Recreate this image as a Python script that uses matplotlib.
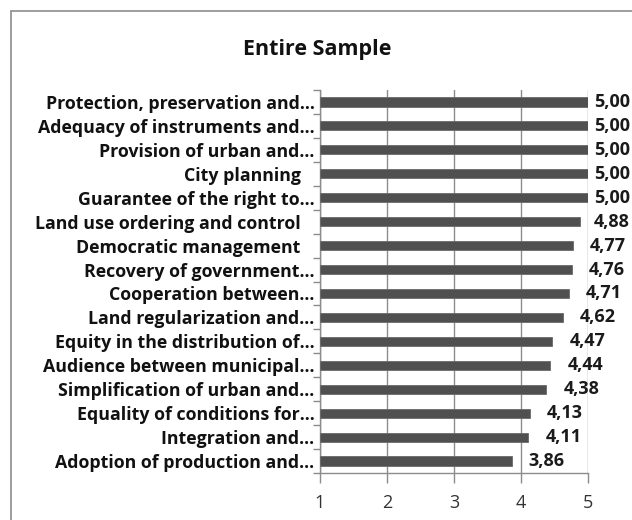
import matplotlib
matplotlib.use("Agg")
import matplotlib.pyplot as plt
import numpy as np
from matplotlib.patches import Rectangle

categories = [
    "Protection, preservation and...",
    "Adequacy of instruments and...",
    "Provision of urban and...",
    "City planning   ",
    "Guarantee of the right to...",
    "Land use ordering and control   ",
    "Democratic management   ",
    "Recovery of government...",
    "Cooperation between...",
    "Land regularization and...",
    "Equity in the distribution of...",
    "Audience between municipal...",
    "Simplification of urban and...",
    "Equality of conditions for...",
    "Integration and...",
    "Adoption of production and...",
]
values = [5.00, 5.00, 5.00, 5.00, 5.00, 4.88, 4.77, 4.76, 4.71, 4.62,
          4.47, 4.44, 4.38, 4.13, 4.11, 3.86]
value_labels = ["5,00", "5,00", "5,00", "5,00", "5,00", "4,88", "4,77", "4,76",
                "4,71", "4,62", "4,47", "4,44", "4,38", "4,13", "4,11", "3,86"]
x_ticks = [1, 2, 3, 4, 5]

plt.rcParams['font.family'] = ['Open Sans', 'DejaVu Sans']

W, H = 632, 520
fig = plt.figure(figsize=(W / 100, H / 100), dpi=100)

# chart frame
fig.patches.append(Rectangle((11 / W, -0.1), 1.2, 1 - 11 / H + 0.1,
                             transform=fig.transFigure, fill=False,
                             edgecolor="#8c8c8c", linewidth=1.2))

ax = fig.add_axes([320 / W, 1 - 473 / H, (588 - 320) / W, (473 - 90) / H])

grid_col = "#8c8c8c"
bar_col = "#505050"

n = len(categories)
y = np.arange(n)
ax.barh(y, [v - 1 for v in values], left=1, height=0.38, color=bar_col,
        edgecolor="#6a6a6a", linewidth=0.6, zorder=3)

ax.set_xlim(1, 5)
ax.set_ylim(n - 0.5, -0.5)

# value labels just past the bar end, kept inside the chart area
for yi, v, lab in zip(y, values, value_labels):
    px, py = ax.transData.transform((v, yi))
    lx = min(px + 17, 594)
    fig.text(lx / W, py / H, lab, ha="left", va="center", fontsize=13,
             fontweight="bold", color="#1a1a1a")

ax.set_xticks(x_ticks)
ax.set_xticklabels([str(t) for t in x_ticks], fontsize=13, color="#333333")
ax.set_yticks(y)
ax.set_yticklabels(categories, fontsize=12.8, fontweight="bold", color="#111111")
ax.set_yticks(np.arange(-0.5, n, 1.0), minor=True)

ax.tick_params(axis="y", which="major", length=0, pad=4)
ax.tick_params(axis="y", which="minor", length=5, color=grid_col, width=1)
ax.tick_params(axis="x", which="major", length=7, color=grid_col, width=1,
               pad=8)

ax.grid(axis="x", color=grid_col, linewidth=1, zorder=0)
for side in ("top", "right"):
    ax.spines[side].set_visible(False)
for side in ("left", "bottom"):
    ax.spines[side].set_color(grid_col)
    ax.spines[side].set_linewidth(1)

fig.text(317 / W, 1 - 54.5 / H, "Entire Sample", ha="center", va="baseline",
         fontsize=15.5, fontweight="bold", color="#111111")

fig.savefig("out.png", dpi=100)
